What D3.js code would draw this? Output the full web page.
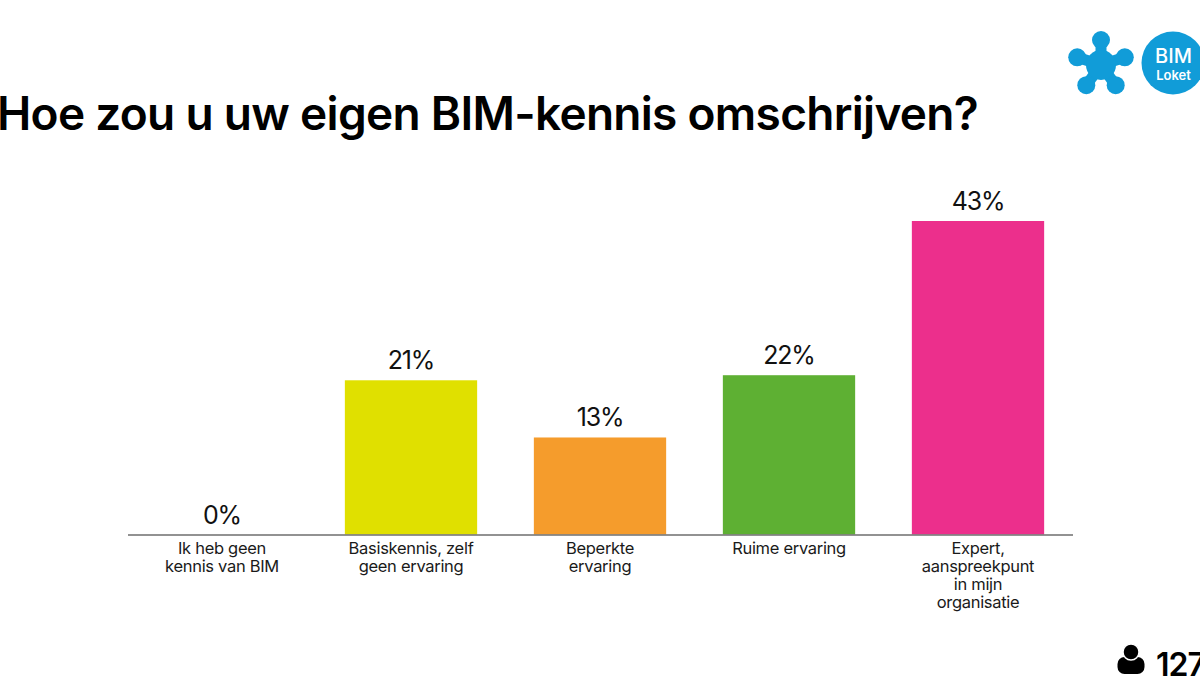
<!DOCTYPE html>
<html>
<head>
<meta charset="utf-8">
<script src="https://d3js.org/d3.v7.min.js"></script>
<style>
  html, body { margin: 0; padding: 0; background: #fff; overflow: hidden; }
  text { font-family: Inter, "Noto Sans", sans-serif; fill: #111; }
</style>
</head>
<body>
<div id="chart"></div>
<script>
// chart values
var categories = ["Ik heb geen", "Basiskennis, zelf", "Beperkte", "Ruime ervaring", "Expert,"];
var categoryLabels = [
    ["Ik heb geen", "kennis van BIM"],
    ["Basiskennis, zelf", "geen ervaring"],
    ["Beperkte", "ervaring"],
    ["Ruime ervaring"],
    ["Expert,", "aanspreekpunt", "in mijn", "organisatie"]
];
// labels show them rounded
var percentages = [0, 21.3, 13.4, 22.0, 43.3];
var barColors = ["#9a9a9a", "#e0e000", "#f59c2c", "#5eb033", "#ec2f8c"];

var svg = d3.select("#chart")
    .append("svg")
    .attr("width", 1200)
    .attr("height", 700);

// title
svg.append("text")
    .attr("x", -3)
    .attr("y", 130)
    .style("font-size", "46px")
    .style("font-weight", "600")
    .style("letter-spacing", "-0.7px")
    .style("fill", "#000")
    .text("Hoe zou u uw eigen BIM-kennis omschrijven?");

// scales
var xScale = d3.scaleBand()
    .domain(categories)
    .range([127.5, 1072.5])
    .paddingInner(0.3)
    .paddingOuter(0.15);

var yScale = d3.scaleLinear()
    .domain([0, 43.3])
    .range([534.5, 221]);

// bars
svg.selectAll("rect.bar")
    .data(percentages)
    .enter()
    .append("rect")
    .attr("class", "bar")
    .attr("x", (d, i) => xScale(categories[i]))
    .attr("y", d => yScale(d))
    .attr("width", xScale.bandwidth())
    .attr("height", d => yScale(0) - yScale(d))
    .attr("fill", (d, i) => barColors[i]);

// axis
var xAxis = d3.axisBottom(xScale).tickSize(0).tickPadding(0);
var axisGroup = svg.append("g")
    .attr("transform", `translate(0, ${yScale(0)})`)
    .call(xAxis);

axisGroup.select(".domain")
    .attr("stroke", "#6e6e6e")
    .attr("stroke-width", 1.5);

// multi line tick labels
axisGroup.selectAll(".tick text")
    .attr("y", 0)
    .attr("dy", null)
    .text(null)
    .style("font-family", "Inter, sans-serif")
    .style("font-size", "16.5px")
    .style("font-weight", "400")
    .style("letter-spacing", "-0.3px")
    .style("fill", "#1a1a1a")
    .each(function (d, i) {
        d3.select(this).selectAll("tspan")
            .data(categoryLabels[i])
            .enter()
            .append("tspan")
            .attr("x", 0)
            .attr("y", (line, j) => 19 + j * 18)
            .text(line => line);
    });

// value labels
svg.selectAll("text.value")
    .data(percentages)
    .enter()
    .append("text")
    .attr("class", "value")
    .attr("x", (d, i) => xScale(categories[i]) + xScale.bandwidth() / 2)
    .attr("y", d => yScale(d) - 11)
    .attr("text-anchor", "middle")
    .style("font-size", "25px")
    .style("font-weight", "400")
    .style("letter-spacing", "-1.2px")
    .text(d => Math.round(d) + "%");

// logo, blue star
var logoBlue = "#119cd8";
var logo = svg.append("g").attr("transform", "translate(1101, 65)");
[-90, -18, 54, 126, 198].forEach(function (angle) {
    var rad = angle * Math.PI / 180;
    logo.append("line")
        .attr("x2", 25 * Math.cos(rad))
        .attr("y2", 25 * Math.sin(rad))
        .attr("stroke", logoBlue)
        .attr("stroke-width", 11);
    logo.append("circle")
        .attr("cx", 25 * Math.cos(rad))
        .attr("cy", 25 * Math.sin(rad))
        .attr("r", 9)
        .attr("fill", logoBlue);
});
logo.append("circle").attr("r", 15).attr("fill", logoBlue);

svg.append("circle")
    .attr("cx", 1173)
    .attr("cy", 63)
    .attr("r", 31.5)
    .attr("fill", logoBlue);
svg.append("text")
    .attr("x", 1173.5)
    .attr("y", 62.5)
    .attr("text-anchor", "middle")
    .style("font-size", "20px")
    .style("font-weight", "500")
    .style("fill", "#fff")
    .text("BIM");
svg.append("text")
    .attr("x", 1173.5)
    .attr("y", 80)
    .attr("text-anchor", "middle")
    .style("font-size", "13px")
    .style("font-weight", "600")
    .style("fill", "#fff")
    .text("Loket");

// respondent count
var person = svg.append("g").attr("transform", "translate(1131, 0)").attr("fill", "#000");
person.append("rect")
    .attr("x", -13.5)
    .attr("y", 657)
    .attr("width", 27)
    .attr("height", 17)
    .attr("rx", 7);
person.append("circle")
    .attr("cy", 652)
    .attr("r", 8)
    .attr("stroke", "#fff")
    .attr("stroke-width", 1.5);

svg.append("text")
    .attr("x", 1156)
    .attr("y", 676)
    .style("font-size", "32px")
    .style("font-weight", "600")
    .style("letter-spacing", "-1px")
    .style("fill", "#000")
    .text("127");
</script>
</body>
</html>
